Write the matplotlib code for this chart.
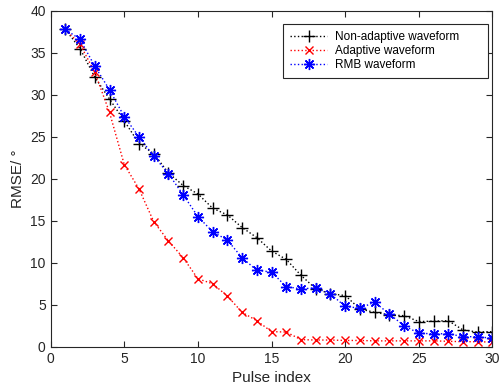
import matplotlib
matplotlib.use('Agg')
import matplotlib.pyplot as plt

plt.rcParams['font.family'] = ['Liberation Sans', 'DejaVu Sans']

pulse = list(range(1, 31))
non_adaptive = [37.8, 35.5, 32.1, 29.5, 26.9, 24.2, 23.0, 20.7, 19.2, 18.2,
                16.5, 15.7, 14.2, 13.0, 11.4, 10.4, 8.5, 6.9, 6.3, 6.1,
                4.5, 4.1, 3.8, 3.7, 3.0, 3.05, 3.1, 2.0, 1.75, 1.8]
adaptive = [37.8, 36.0, 32.7, 27.9, 21.7, 18.8, 14.9, 12.6, 10.6, 8.1,
            7.5, 6.05, 4.1, 3.1, 1.8, 1.75, 0.85, 0.8, 0.8, 0.75,
            0.75, 0.7, 0.7, 0.7, 0.7, 0.7, 0.65, 0.6, 0.6, 0.55]
rmb = [37.8, 36.6, 33.4, 30.6, 27.4, 25.0, 22.7, 20.6, 18.1, 15.5,
       13.7, 12.7, 10.6, 9.1, 8.9, 7.15, 6.9, 7.0, 6.3, 4.8,
       4.6, 5.3, 3.9, 2.5, 1.6, 1.55, 1.55, 1.2, 1.2, 1.0]
labels = ['Non-adaptive waveform', 'Adaptive waveform', 'RMB waveform']

grey = '#262626'

fig = plt.figure(figsize=(5.01, 3.87), dpi=100)
ax = fig.add_axes([0.101, 0.104, 0.882, 0.868])

# trailing spaces give the MATLAB-like empty room on the right of the legend
pad = ' ' * 7
ax.plot(pulse, non_adaptive, ':', color='k', marker='+', markersize=9, lw=1, label=labels[0] + pad)
ax.plot(pulse, adaptive, ':', color='r', marker='x', markersize=6, lw=1, label=labels[1])
ax.plot(pulse, rmb, ':', color='b', marker=(8, 2, 0), markersize=8, markeredgewidth=1, lw=1, label=labels[2])

ax.set_xlim(0, 30)
ax.set_ylim(0, 40)
ax.set_xticks(range(0, 31, 5))
ax.set_yticks(range(0, 41, 5))
ax.tick_params(direction='in', top=True, right=True, labelsize=10, length=4,
               color=grey, labelcolor=grey)
for s in ax.spines.values():
    s.set_color(grey)
ax.set_xlabel('Pulse index', fontsize=11, color=grey)
ax.set_ylabel('RMSE/ °', fontsize=11, color=grey)

leg = ax.legend(loc='upper right', fontsize=8.5, numpoints=1, fancybox=False,
                edgecolor=grey, framealpha=1, bbox_to_anchor=(0.990, 0.960),
                borderaxespad=0, handlelength=3.2, borderpad=0.55,
                labelspacing=0.2, handletextpad=0.6)
leg.get_frame().set_linewidth(0.8)
for t in leg.get_texts():
    t.set_color('k')

fig.savefig('out.png')
